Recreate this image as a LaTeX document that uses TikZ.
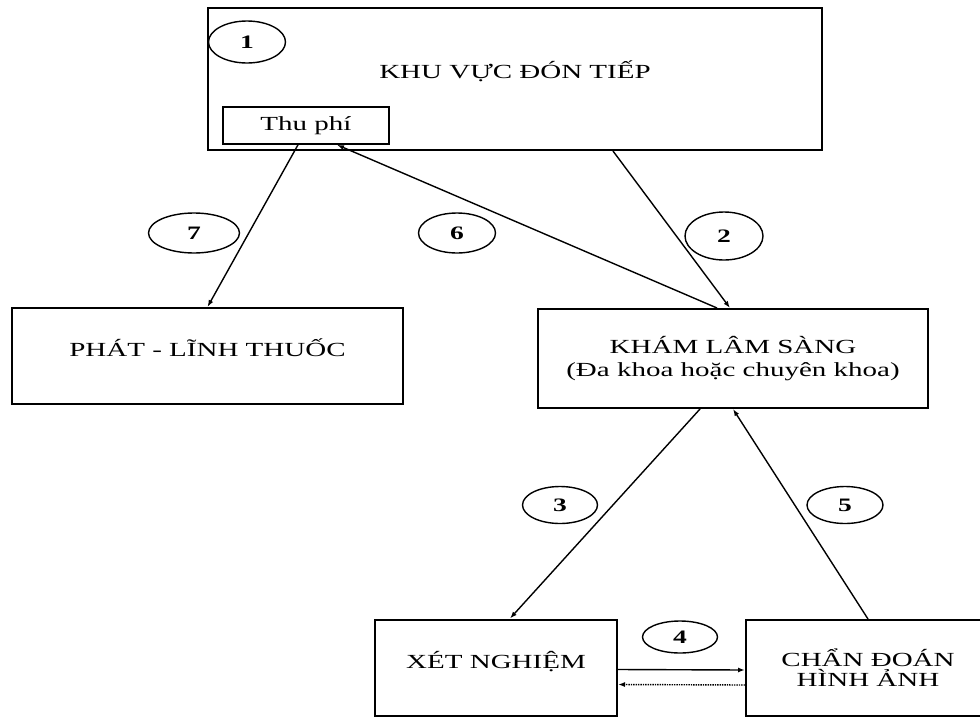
\documentclass[tikz,border=0pt]{standalone}
\usepackage{fontspec}
\setmainfont{Liberation Serif}[FakeStretch=1.45]
\usetikzlibrary{shapes.geometric,arrows.meta}
\begin{document}
\begin{tikzpicture}
[x=1pt,y=-1pt,
  boxdecorate/.style={shape=rectangle,draw,line width=2pt,inner sep=0pt,
    align=center,font=\fontsize{20}{23}\selectfont},%
  ovaldecorate/.style={shape=ellipse,draw,line width=1.4pt,inner sep=0pt,
    font=\fontsize{19}{20}\selectfont\bfseries},%
  linedecorate/.style={-{Latex[length=7pt,width=5pt]},line width=1.4pt}]
\useasboundingbox (0,0) rectangle (980,718);
%% boxes
\node (don) at (515,79) [boxdecorate,minimum width=614,minimum height=142] {};
\node (dontxt) at (515,71) [font=\fontsize{20}{23}\selectfont] {KHU VỰC ĐÓN TIẾP};
\node (thuphi) at (306,125.5) [boxdecorate,line width=1.6pt,minimum width=166,minimum height=37] {Thu phí};
\node (phat) at (207.5,356) [boxdecorate,text depth=16pt,minimum width=391,minimum height=96] {PHÁT - LĨNH THUỐC};
\node (kham) at (733,358.5) [boxdecorate,minimum width=390,minimum height=99] {KHÁM LÂM SÀNG\\(Đa khoa hoặc chuyên khoa)};
\node (xet) at (496,667.5) [boxdecorate,text depth=16pt,minimum width=242,minimum height=96] {XÉT NGHIỆM};
\node (chan) at (868,668) [boxdecorate,minimum width=244,minimum height=96] {CHẨN ĐOÁN\\[-3pt]HÌNH ẢNH};
%% step numbers
\foreach \num/\x/\y/\w/\h in {1/247/42/77/42, 2/724/236/78/48, 3/560/505/75/37,
  4/680/637/75/32, 5/845/505/76/37, 6/457/233/77/40, 7/194/233/91/40} {
  \node (step\num) at (\x,\y) [ovaldecorate,minimum width=\w,minimum height=\h] {\num};
}
%% flows
\path
\foreach \startnode/\sx/\endnode/\ex in {thuphi.south/-8/phat.north/0,
  kham.north/-16/thuphi.south/31, don.south/98/kham.north/-3,
  kham.south/-33/xet.north/14, chan.north/0/kham.south/0} {
  ([xshift=\sx]\startnode) edge[linedecorate] ([xshift=\ex]\endnode)
};
\draw[linedecorate] ([yshift=-2]xet.east) -- ([yshift=-2]chan.west);
\draw[linedecorate,densely dotted] ([yshift=-17]chan.west) -- ([yshift=-17]xet.east);
\end{tikzpicture}
\end{document}
